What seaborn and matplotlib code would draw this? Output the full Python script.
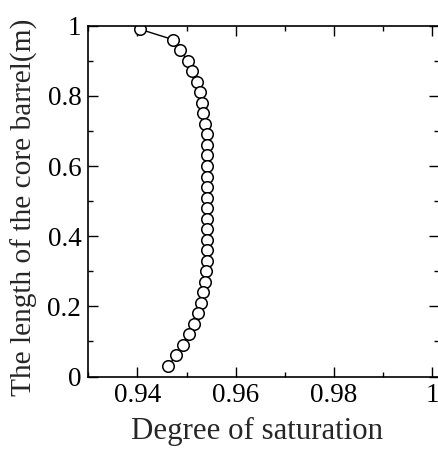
import matplotlib
matplotlib.use("Agg")
import matplotlib.pyplot as plt
import numpy as np
import pandas as pd
import seaborn as sns
from matplotlib.ticker import MultipleLocator, FuncFormatter

# core barrel profile: length (m) vs degree of saturation
length_m = [0.99, 0.96, 0.93, 0.90, 0.87, 0.84, 0.81, 0.78, 0.75, 0.72, 0.69,
            0.66, 0.63, 0.60, 0.57, 0.54, 0.51, 0.48, 0.45, 0.42, 0.39, 0.36,
            0.33, 0.30, 0.27, 0.24, 0.21, 0.18, 0.15, 0.12, 0.09, 0.06, 0.03]
saturation = [0.9405, 0.9473, 0.9487, 0.9502, 0.9511, 0.9521, 0.9527, 0.9531,
              0.9534, 0.9538, 0.9541, 0.9541, 0.9542, 0.9542, 0.9542, 0.9542,
              0.9542, 0.9542, 0.9542, 0.9542, 0.9541, 0.9541, 0.9541, 0.9539,
              0.9538, 0.9534, 0.9530, 0.9523, 0.9515, 0.9505, 0.9492, 0.9479,
              0.9462]
x_ticks = [0.94, 0.96, 0.98, 1.0]
y_ticks = [0, 0.2, 0.4, 0.6, 0.8, 1.0]

sns.set_style("ticks")
plt.rcParams["font.family"] = ["Liberation Serif", "DejaVu Serif"]

df = pd.DataFrame({"saturation": saturation, "length": length_m})

fig = plt.figure(figsize=(4.38, 4.49), dpi=100)
ax = fig.add_axes([88.3 / 438, 1 - 376.5 / 449, (439 - 88.3) / 438, (376.5 - 25.7) / 449])

sns.lineplot(data=df, x="saturation", y="length", sort=False, estimator=None,
             color="black", lw=1.0, marker="o", markersize=8.3,
             markerfacecolor="white", markeredgecolor="black",
             markeredgewidth=1.1, ax=ax)

ax.set_xlim(0.93, 0.93 + (439 - 88.3) / 4915)
ax.set_ylim(0, 1)
ax.set_xticks(x_ticks)
ax.set_yticks(y_ticks)
ax.xaxis.set_minor_locator(MultipleLocator(0.01))
ax.yaxis.set_minor_locator(MultipleLocator(0.1))
fmt = FuncFormatter(lambda v, p: f"{v:g}")
ax.xaxis.set_major_formatter(fmt)
ax.yaxis.set_major_formatter(fmt)

for s in ax.spines.values():
    s.set_visible(True)
    s.set_linewidth(1.2)
    s.set_color("black")

ax.tick_params(which="both", direction="in", top=True, right=True, colors="black",
               labelsize=19.5, width=1.0)
ax.tick_params(which="major", length=7, pad=5)
ax.tick_params(which="minor", length=3.5)

ax.set_xlabel("Degree of saturation", fontsize=22.2)
ax.set_ylabel("The length of the core barrel(m)", fontsize=21.2)
ax.xaxis.set_label_coords(0.481, -0.114)
ax.yaxis.set_label_coords(-0.144, 0.482)

fig.savefig("out.png", dpi=100)
